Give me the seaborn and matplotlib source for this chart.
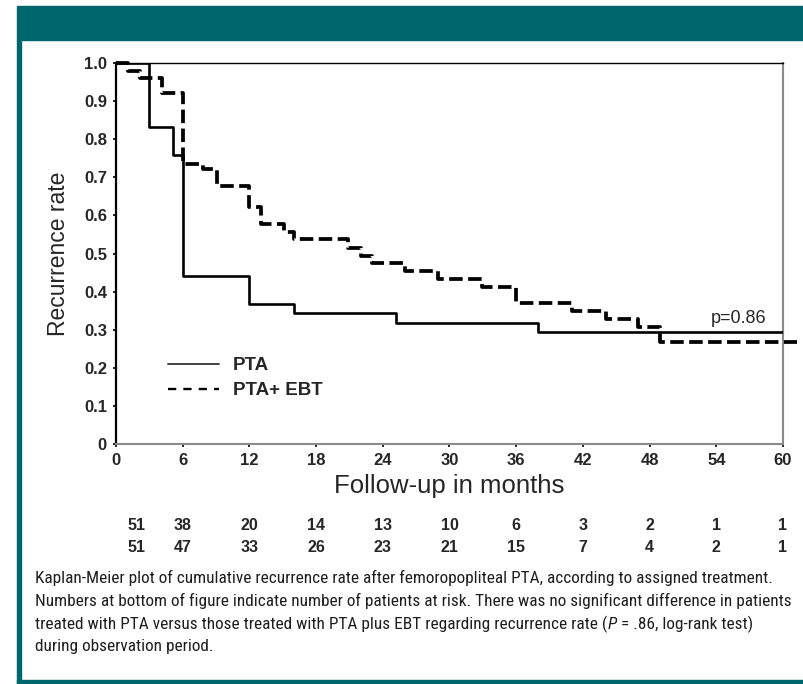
import matplotlib
matplotlib.use("Agg")
import matplotlib.pyplot as plt
import matplotlib.transforms as mtransforms
from matplotlib import font_manager
from matplotlib.font_manager import FontProperties
from matplotlib.lines import Line2D
from matplotlib.patches import Rectangle
from matplotlib.offsetbox import TextArea, HPacker, AnchoredOffsetbox
import pandas as pd
import seaborn as sns

# Kaplan-Meier step curves (month of event, cumulative rate after the event)
months_pta = [0, 3.0, 5.1, 6.0, 12.0, 16.0, 25.2, 38.0, 60.0]
rate_pta = [1.0, 0.833, 0.758, 0.441, 0.367, 0.343, 0.318, 0.295, 0.295]

months_ebt = [0, 1.1, 2.2, 4.1, 6.0, 7.8, 9.1, 12.0, 13.0, 15.1, 16.0, 20.9,
              22.0, 23.0, 26.0, 29.0, 32.9, 36.0, 41.0, 44.1, 47.0, 48.9, 61.3]
rate_ebt = [1.0, 0.98, 0.96, 0.92, 0.735, 0.722, 0.678, 0.622, 0.578, 0.556,
            0.537, 0.514, 0.493, 0.474, 0.455, 0.432, 0.411, 0.369, 0.348,
            0.327, 0.308, 0.269, 0.269]

group_labels = ["PTA", "PTA+ EBT"]

x_ticks = [0, 6, 12, 18, 24, 30, 36, 42, 48, 54, 60]
y_ticks = [0, 0.1, 0.2, 0.3, 0.4, 0.5, 0.6, 0.7, 0.8, 0.9, 1.0]
y_tick_labels = ["0", "0.1", "0.2", "0.3", "0.4", "0.5", "0.6", "0.7", "0.8", "0.9", "1.0"]

at_risk_pta = [51, 38, 20, 14, 13, 10, 6, 3, 2, 1, 1]
at_risk_ebt = [51, 47, 33, 26, 23, 21, 15, 7, 4, 2, 1]

p_text = "p=0.86"
x_label = "Follow-up in months"
y_label = "Recurrence rate"
# each caption line is a list of (text, italic) runs
caption_lines = [
    [("Kaplan-Meier plot of cumulative recurrence rate after femoropopliteal PTA, according to assigned treatment.", False)],
    [("Numbers at bottom of figure indicate number of patients at risk. There was no significant difference in patients", False)],
    [("treated with PTA versus those treated with PTA plus EBT regarding recurrence rate (", False),
     ("P", True),
     (" = .86, log-rank test)", False)],
    [("during observation period.", False)],
]

sns.set_theme(style="white")
plt.rcParams["font.family"] = ["Liberation Sans", "DejaVu Sans"]

W, H = 804, 684
teal = "#00666e"


def narrow_family():
    """Pick a condensed sans face for the caption, if one is installed."""
    entries = font_manager.fontManager.ttflist
    names = {e.name for e in entries}
    for name in ["Liberation Sans Narrow", "Arial Narrow", "Roboto Condensed",
                 "Open Sans Condensed", "DejaVu Sans Condensed"]:
        if name in names:
            return name, "normal"
    for pref in ["DejaVu Sans", "Noto Sans", "Open Sans", "Roboto"]:
        for e in entries:
            if (e.name == pref and e.style == "normal"
                    and str(e.stretch) in ("condensed", "semi-condensed")
                    and str(e.weight) in ("400", "normal", "regular", "book")):
                return e.name, e.stretch
    return "Liberation Sans", "normal"


cap_family, cap_stretch = narrow_family()

fig = plt.figure(figsize=(W / 100, H / 100), dpi=100)
fig.patch.set_facecolor("white")

# frame: header band, left rule, bottom rule
fig.patches.append(Rectangle((17 / W, 1 - 40 / H), (W - 17) / W, 34 / H,
                             transform=fig.transFigure, color=teal, zorder=0))
fig.patches.append(Rectangle((17 / W, 0), 4 / W, 1 - 40 / H,
                             transform=fig.transFigure, color=teal, zorder=0))
fig.patches.append(Rectangle((17 / W, 0), (W - 17) / W, 4 / H,
                             transform=fig.transFigure, color=teal, zorder=0))

ax = fig.add_axes([116 / W, 1 - 444 / H, (783 - 116) / W, (444 - 63) / H])
ax.set_facecolor("white")

df = pd.DataFrame({
    "month": months_pta + months_ebt,
    "rate": rate_pta + rate_ebt,
    "group": [group_labels[0]] * len(months_pta) + [group_labels[1]] * len(months_ebt),
})

sns.lineplot(data=df[df["group"] == group_labels[0]], x="month", y="rate",
             estimator=None, sort=False, drawstyle="steps-post",
             color="black", lw=1.9, legend=False, ax=ax, zorder=3)
sns.lineplot(data=df[df["group"] == group_labels[1]], x="month", y="rate",
             estimator=None, sort=False, drawstyle="steps-post",
             color="black", lw=2.7, linestyle=(0, (3.6, 1.45)),
             legend=False, ax=ax, clip_on=False, zorder=4)

ax.set_xlim(0, 60)
ax.set_ylim(0, 1.0)
ax.set_xticks(x_ticks)
ax.set_xticklabels([str(t) for t in x_ticks], fontsize=12, fontweight="bold")
ax.set_yticks(y_ticks)
ax.set_yticklabels(y_tick_labels, fontsize=12, fontweight="bold")
ax.tick_params(axis="both", which="major", bottom=True, left=True,
               length=2.5, width=1.2, color="black", pad=4)
ax.set_xlabel(x_label, fontsize=18.5, labelpad=4)
ax.set_ylabel(y_label, fontsize=16.5, labelpad=10)
ax.grid(False)

for side in ["left", "top"]:
    ax.spines[side].set_color("black")
ax.spines["left"].set_linewidth(1.6)
ax.spines["top"].set_linewidth(1.0)
for side in ["bottom", "right"]:
    ax.spines[side].set_color("#8a8a8a")
    ax.spines[side].set_linewidth(1.5)

ax.text(56, 0.33, p_text, fontsize=13, ha="center", va="center")

handles = [
    Line2D([], [], color="#333333", lw=1.3),
    Line2D([], [], color="black", lw=1.7, linestyle=(0, (3.5, 3.0))),
]
ax.legend(handles, group_labels, loc="upper left", frameon=False,
          bbox_to_anchor=(168 / W, 1 - 357 / H), bbox_transform=fig.transFigure,
          borderpad=0, borderaxespad=0, handlelength=2.7, handletextpad=0.75,
          labelspacing=0.42, prop={"size": 13.5, "weight": "bold"})

# numbers at risk below the time axis
risk_tf = mtransforms.blended_transform_factory(ax.transData, fig.transFigure)
for i, t in enumerate(x_ticks):
    xpos = 1.8 if t == 0 else t
    ax.text(xpos, 1 - 525 / H, str(at_risk_pta[i]), transform=risk_tf,
            fontsize=11.5, fontweight="bold", ha="center", va="center")
    ax.text(xpos, 1 - 548 / H, str(at_risk_ebt[i]), transform=risk_tf,
            fontsize=11.5, fontweight="bold", ha="center", va="center")

# caption: size the condensed face so the widest line fits the text block
renderer = fig.canvas.get_renderer()
widest = 0.0
for runs in caption_lines:
    probe = fig.text(0, 0, "".join(txt for txt, _ in runs),
                     fontproperties=FontProperties(family=cap_family, stretch=cap_stretch, size=12))
    widest = max(widest, probe.get_window_extent(renderer).width)
    probe.remove()
cap_size = min(16.0, 12 * (787 - 35) / widest)

for i, runs in enumerate(caption_lines):
    parts = []
    for txt, italic in runs:
        fp = FontProperties(family=cap_family, stretch=cap_stretch, size=cap_size,
                            style="italic" if italic else "normal")
        parts.append(TextArea(txt, textprops={"fontproperties": fp, "color": "#1e1e1e"}))
    row = HPacker(children=parts, align="baseline", pad=0, sep=0)
    box = AnchoredOffsetbox(loc="center left", child=row, frameon=False, pad=0,
                            borderpad=0, bbox_to_anchor=(35 / W, 1 - (578 + 23 * i) / H),
                            bbox_transform=fig.transFigure)
    fig.add_artist(box)

fig.savefig("out.png", dpi=100, facecolor="white")
